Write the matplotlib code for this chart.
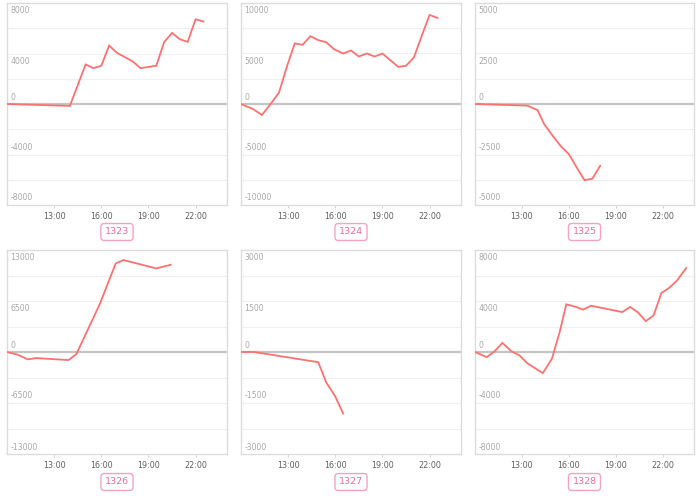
import matplotlib
matplotlib.use("Agg")
import matplotlib.pyplot as plt

# ---------------- data ----------------
names = ["1323", "1324", "1325", "1326", "1327", "1328"]
y_max = [8000, 10000, 5000, 13000, 3000, 8000]

times1 = ["10:00","14:00","15:00","15:30","16:00","16:30","17:00","18:00","18:30","19:30","20:00","20:30","21:00","21:30","22:00","22:30"]
vals1 = [0,-150,3130,2840,3030,4630,4050,3370,2840,3030,4900,5630,5130,4920,6710,6530]

times2 = ["10:00","10:45","11:20","11:50","12:25","12:55","13:25","13:55","14:25","14:55","15:25","15:55","16:30","17:00","17:30","18:00","18:30","19:00","19:30","20:00","20:30","21:00","21:30","22:00","22:30"]
vals2 = [0,-490,-1090,-100,1120,3680,5990,5860,6710,6320,6120,5430,5000,5300,4700,5000,4700,5000,4340,3680,3780,4600,6740,8820,8520]

times3 = ["10:00","13:20","14:00","14:25","15:00","15:30","16:00","16:30","17:00","17:30","18:00"]
vals3 = [0,-80,-300,-990,-1610,-2100,-2480,-3140,-3770,-3700,-3060]

times4 = ["10:00","10:40","11:20","11:50","13:55","14:25","15:55","16:55","17:25","19:30","20:25"]
vals4 = [0,-340,-940,-770,-1030,-260,6160,11290,11720,10650,11120]

times5 = ["10:00","10:50","14:55","15:25","16:00","16:30"]
vals5 = [0,0,-300,-890,-1310,-1810]

times6 = ["10:00","10:45","11:15","11:45","12:20","12:50","13:20","14:20","14:55","15:25","15:50","16:25","16:55","17:25","19:25","19:55","20:25","20:55","21:25","21:55","22:25","22:55","23:30"]
vals6 = [0,-400,50,710,50,-260,-870,-1660,-530,1580,3740,3550,3320,3630,3130,3530,3110,2420,2870,4630,5030,5610,6580]

x_tick_labels = ["13:00", "16:00", "19:00", "22:00"]

series_times = [times1, times2, times3, times4, times5, times6]
series_vals = [vals1, vals2, vals3, vals4, vals5, vals6]


def to_hours(t):
    h, m = t.split(":")
    return int(h) + int(m) / 60.0


# ---------------- layout ----------------
W, H = 700, 496
fig = plt.figure(figsize=(W / 100, H / 100), dpi=100)

col_left = [7, 241, 475]
col_w = [220, 220, 219]
row_top = [3, 250]
row_bot = [205, 454]
label_y = [232, 482]

LINE = "#ff7070"
GRID = "#f0f0f0"
ZERO = "#c4c4c4"
SPINE = "#dcdcdc"
YLAB = "#a8a8a8"
XLAB = "#606060"
PINK_EDGE = "#f6a3c0"
PINK_TEXT = "#ee6c98"

for i in range(6):
    r, c = divmod(i, 3)
    left = col_left[c] / W
    bottom = 1 - row_bot[r] / H
    width = col_w[c] / W
    height = (row_bot[r] - row_top[r]) / H
    ax = fig.add_axes([left, bottom, width, height])

    m = y_max[i]
    ax.set_xlim(10, 24)
    ax.set_ylim(-m, m)

    for k in (-3, -2, -1, 1, 2, 3):
        ax.axhline(k * m / 4, color=GRID, lw=0.8, zorder=0)
    ax.axhline(0, color=ZERO, lw=1.6, zorder=1)

    xs = [to_hours(t) for t in series_times[i]]
    ax.plot(xs, series_vals[i], color=LINE, lw=1.3, zorder=3,
            solid_joinstyle="miter")

    for k in (-2, -1, 0, 1, 2):
        v = k * m / 2
        lab = f"{int(v)}"
        if v > 0:
            ax.annotate(lab, xy=(0, v), xycoords=("axes fraction", "data"),
                        xytext=(2.3, -2.2), textcoords="offset points",
                        ha="left", va="top", fontsize=5.6, color=YLAB)
        else:
            ax.annotate(lab, xy=(0, v), xycoords=("axes fraction", "data"),
                        xytext=(2.3, 1.8), textcoords="offset points",
                        ha="left", va="bottom", fontsize=5.6, color=YLAB)

    ax.set_yticks([])
    ax.set_xticks([13, 16, 19, 22])
    ax.set_xticklabels(x_tick_labels, fontsize=5.8, color=XLAB)
    ax.tick_params(axis="x", length=2.5, width=0.6, color="#cccccc", pad=2.2)
    for s in ax.spines.values():
        s.set_color(SPINE)
        s.set_linewidth(1.0)

    cx = (col_left[c] + col_w[c] / 2) / W
    fig.text(cx, 1 - label_y[r] / H, names[i], ha="center", va="center",
             fontsize=6.8, color=PINK_TEXT,
             bbox=dict(boxstyle="round,pad=0.42,rounding_size=0.35",
                       fc="white", ec=PINK_EDGE, lw=1.0))

fig.savefig("out.png", dpi=100, facecolor="white")
